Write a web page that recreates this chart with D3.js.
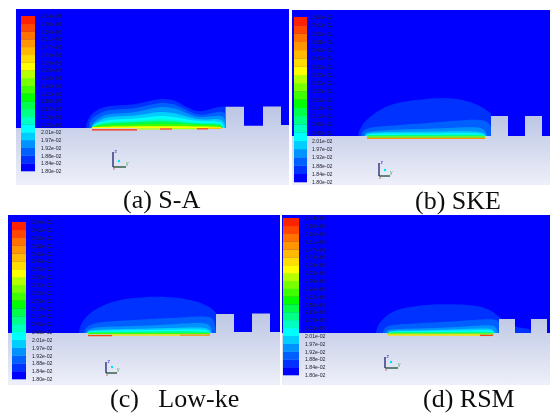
<!DOCTYPE html>
<html>
<head>
<meta charset="utf-8">
<title>Contours by turbulence model</title>
<script src="https://cdn.jsdelivr.net/npm/d3@7"></script>
<style>
  html, body { margin: 0; padding: 0; background: #fff; }
  svg { display: block; }
</style>
</head>
<body>
<script>
// legend values, all with the e-02 exponent
const legendValues = [1.80, 1.84, 1.88, 1.92, 1.97, 2.01, 2.05, 2.09, 2.13, 2.18, 2.22, 2.26, 2.30, 2.35, 2.39, 2.43, 2.47, 2.51, 2.56, 2.60, 2.64];
const colorStops = [1.80, 2.01, 2.18, 2.35, 2.64];
const colorNames = ['#0000ff', '#00ffff', '#00ff00', '#ffff00', '#ff0000'];

// contour profiles: [distance along wall, height above wall]
const saLevels = [1.84, 1.88, 1.92, 1.97, 2.01, 2.05, 2.13, 2.22, 2.35];
const saProfiles = [
  [[70,0],[71,6],[74,13],[84,20],[92,22],[104,23],[116,23],[129,26],[142,29],[151,29],[159,28],[172,20],[184,15],[196,20],[209,22],[209,21]],
  [[73,0],[74,8],[78,11],[84,15],[92,18],[104,19],[116,19],[129,22],[142,25],[151,25],[159,24],[172,17],[184,12],[196,15],[205,17],[209,15]],
  [[75,0],[76,5],[84,11],[92,14],[104,15],[116,15],[129,18],[142,21],[151,21],[159,20],[172,14],[184,10],[196,12],[207,13],[209,8]],
  [[76,0],[77,4],[84,8],[92,11],[104,12],[116,12],[129,14],[142,16],[151,16],[159,15],[172,11],[184,8],[196,9],[207,9],[209,3]],
  [[76,0],[77,3],[84,6],[92,8],[104,9],[116,9],[129,10.5],[142,12],[151,12],[159,11],[172,8.5],[184,6.5],[196,7],[207,6],[208,0]],
  [[76,0],[77,2],[84,4.5],[92,6],[104,7],[116,7],[129,8],[142,9],[159,8.5],[172,6],[184,5],[196,5.5],[206,4.5],[207,0]],
  [[76,0],[77,2],[84,3.5],[92,5],[116,5.5],[142,7],[159,6.5],[172,4.5],[196,4],[206,3],[206,0]],
  [[76,0],[77,1.5],[84,2.5],[116,3.5],[142,4.5],[159,4],[172,3.5],[196,3],[206,2],[206,0]],
  [[77,0],[78,1],[84,1.3],[142,2],[196,1.5],[205,1],[205,0]]
];
const skeLevels = [1.84, 1.88, 1.92, 1.97, 2.01, 2.09];
const skeProfiles = [
  [[66,0],[67,5],[70,11],[75,17],[91,29],[108,34],[125,36],[151,39],[175,36],[191,29],[199,22]],
  [[69,0],[70,5],[75,8],[91,10],[125,12],[158,15],[185,17],[196,15],[199,9]],
  [[72,0],[73,3],[75,4],[91,6],[125,7],[150,7.5],[185,9.5],[193,6.5],[195,0]],
  [[73,0],[74,2],[76,3],[91,4],[150,4.5],[185,5],[193,3],[194,0]],
  [[74,0],[75,1.5],[77,2],[91,2.5],[150,2.5],[185,3],[192,1.5],[193,0]],
  [[75,0],[76,1],[78,1],[150,1.2],[185,1.4],[192,0.6],[192,0]]
];
const lowkeLevels = [1.84, 1.88, 1.92, 1.97, 2.01, 2.09];
const lowkeProfiles = [
  [[71,0],[72,6],[75,13],[85,23],[102,31],[122,35],[149,37],[175,35],[195,30],[205,24],[208,20]],
  [[76,0],[77,4],[79,6],[85,10],[105,12],[145,14],[179,16],[202,17],[206,13],[208,2]],
  [[78,0],[79,3],[87,6],[105,6.5],[145,7.5],[190,10.5],[199,9.5],[203,6.5],[204,0]],
  [[79,0],[80,2],[87,3.5],[145,4.5],[190,6],[199,5],[202,3],[203,0]],
  [[79.5,0],[80,1.5],[87,2.3],[145,3],[190,3.7],[199,3],[202,0.8],[202,0]],
  [[80,0],[81,1],[87,1.2],[145,1.5],[199,1.8],[201,0.6],[201,0]]
];
const rsmLevels = [1.84, 1.88, 1.92, 1.97, 2.01, 2.09];
const rsmProfiles = [
  [[94,0],[95,5],[98,11],[108,21],[125,26],[151,29],[185,29],[208,25],[217,15],[233,6],[241,5],[249,4],[249.5,0]],
  [[101,0],[102,4],[106,8],[125,9],[168,11],[201,14],[215,14],[217,10]],
  [[104,0],[105,3],[111,4],[151,5],[185,6.5],[208,8.5],[214,6.5],[216,0]],
  [[106,0],[107,1.5],[112,2.5],[151,3],[185,4],[208,5],[212,3],[213,0]],
  [[106.5,0],[107,1],[113,1.7],[151,2],[185,2.5],[208,3],[211,1.5],[212,0]],
  [[107,0],[108,0.7],[113,0.9],[185,1],[208,1.5],[211,0.5],[211,0]]
];

// wall outline with the two blocks
const saWall = [[0,0],[209.5,0],[209.5,21.3],[228,21.3],[228,2.3],[247,2.3],[247,21.5],[265,21.5],[265,3],[273,3]];
const skeWall = [[0,0],[199,0],[199,20],[216,20],[216,0],[233,0],[233,20],[250,20],[250,0],[258,0]];
const lowkeWall = [[0,0],[208,0],[208,19],[226,19],[226,1],[244,1],[244,19.5],[262,19.5],[262,1],[272,1]];
const rsmWall = [[0,0],[217,0],[217,14],[233,14],[233,0],[249,0],[249,14],[265,14],[265,0],[268,0]];

// hot strip on the wall: [from, to, height, value]
const saStrip = [[76,205,0.4,2.35],[76,121,-1.8,2.60],[121,144,-1,2.30],[144,156,-1,2.56],[156,181,-0.6,2.30],[181,192,-0.8,2.56],[192,205,-0.3,2.43]];
const skeStrip = [[75,193,-1,2.22],[75,193,-2.4,2.47]];
const lowkeStrip = [[80,202,-0.6,2.22],[80,104,-2.6,2.56],[104,172,-2.2,2.39],[172,202,-2.2,2.47]];
const rsmStrip = [[105,212,-0.8,2.22],[105,198,-2,2.39],[198,211,-2.4,2.56]];

const captions = ['(a) S-A', '(b) SKE', '(c)   Low-ke', '(d) RSM'];

// sheet layout
const panels = [
  { left: 16, right: 289, top: 9, bottom: 185, wall: 128, barL: 21, barR: 35, barT: 16, barB: 171, labelX: 41, levels: saLevels, profiles: saProfiles, outline: saWall, strip: saStrip, triad: [113, 152, 167, 126], capX: 123, capY: 208, caption: captions[0] },
  { left: 292, right: 550, top: 10, bottom: 185, wall: 136, barL: 294, barR: 307, barT: 17, barB: 182, labelX: 312, levels: skeLevels, profiles: skeProfiles, outline: skeWall, strip: skeStrip, triad: [379, 163, 176, 390], capX: 415, capY: 209, caption: captions[1] },
  { left: 8, right: 280, top: 215, bottom: 385, wall: 333, barL: 12, barR: 26, barT: 222, barB: 379, labelX: 32, levels: lowkeLevels, profiles: lowkeProfiles, outline: lowkeWall, strip: lowkeStrip, triad: [106, 362, 373, 117], capX: 110, capY: 407, caption: captions[2] },
  { left: 282, right: 550, top: 215, bottom: 385, wall: 333, barL: 283, barR: 299, barT: 218, barB: 375, labelX: 305, levels: rsmLevels, profiles: rsmProfiles, outline: rsmWall, strip: rsmStrip, triad: [385, 357, 368, 398], capX: 423, capY: 407, caption: captions[3] }
];

const color = d3.scaleLinear().domain(colorStops).range(colorNames);

const svg = d3.select('body').append('svg').attr('width', 550).attr('height', 413);
const defs = svg.append('defs');
defs.append('filter').attr('id', 'soft').attr('x', '-2%').attr('y', '-2%').attr('width', '104%').attr('height', '104%')
  .append('feGaussianBlur').attr('stdDeviation', 0.7);
defs.append('filter').attr('id', 'softText')
  .append('feGaussianBlur').attr('stdDeviation', 0.3);

panels.forEach(function(p, i) {
  let x = d3.scaleLinear().domain([0, p.right - p.left]).range([p.left, p.right]);
  let y = d3.scaleLinear().domain([0, p.wall - p.top]).range([p.wall, p.top]);
  let g = svg.append('g').attr('filter', 'url(#soft)');

  // the blue far field
  g.append('rect').attr('x', p.left).attr('y', p.top)
    .attr('width', p.right - p.left).attr('height', p.wall - p.top + 4).attr('fill', color(legendValues[0]));

  // contour bands, coolest first
  let area = d3.area().x(function(d) { return x(d[0]); }).y0(y(0)).y1(function(d) { return y(d[1]); })
    .curve(d3.curveBasis);
  g.selectAll('.band').data(p.profiles).enter().append('path')
    .attr('class', 'band')
    .attr('d', area)
    .attr('fill', function(d, j) { return color(p.levels[j]); });

  // wall and blocks share one grey-blue fade
  let fadeId = 'fade' + i;
  let fade = defs.append('linearGradient').attr('id', fadeId).attr('gradientUnits', 'userSpaceOnUse')
    .attr('x1', 0).attr('x2', 0).attr('y1', y(20)).attr('y2', p.bottom);
  fade.append('stop').attr('offset', 0).attr('stop-color', '#bcc6e4');
  fade.append('stop').attr('offset', 1).attr('stop-color', '#eef0f9');
  let outline = [[0, -(p.bottom - p.wall)]].concat(p.outline, [[p.right - p.left, -(p.bottom - p.wall)]]);
  g.append('path')
    .attr('d', d3.line().x(function(d) { return x(d[0]); }).y(function(d) { return y(d[1]); })(outline) + 'Z')
    .attr('fill', 'url(#' + fadeId + ')');

  // hot strip
  g.selectAll('.strip').data(p.strip).enter().append('line')
    .attr('class', 'strip')
    .attr('x1', function(d) { return x(d[0]); })
    .attr('x2', function(d) { return x(d[1]); })
    .attr('y1', function(d) { return y(d[2]); })
    .attr('y2', function(d) { return y(d[2]); })
    .attr('stroke', function(d) { return color(d[3]); })
    .attr('stroke-width', 1.3);

  // colour bar
  let barY = d3.scaleLinear().domain([0, legendValues.length - 1]).range([p.barB, p.barT]);
  g.selectAll('.swatch').data(legendValues.slice(0, -1)).enter().append('rect')
    .attr('class', 'swatch')
    .attr('x', p.barL)
    .attr('width', p.barR - p.barL)
    .attr('y', function(d, j) { return barY(j + 1); })
    .attr('height', barY(0) - barY(1) + 0.3)
    .attr('fill', function(d) { return color(d); });

  let labelScale = d3.scalePoint().domain(legendValues).range([p.barB, p.barT]);
  let axis = d3.axisRight(labelScale).tickSize(0).tickPadding(0)
    .tickFormat(function(d) { return d.toFixed(2) + 'e-02'; });
  let axisG = g.append('g').attr('transform', 'translate(' + p.labelX + ',0)').call(axis);
  axisG.select('.domain').remove();
  axisG.selectAll('text').attr('font-family', 'Liberation Sans').attr('font-size', 5.2).attr('fill', '#222233');

  // coordinate triad
  let t = p.triad;
  let triad = g.append('g');
  triad.append('line').attr('x1', t[0]).attr('x2', t[0]).attr('y1', t[1]).attr('y2', t[2]).attr('stroke', '#101060').attr('stroke-width', 1.2);
  triad.append('line').attr('x1', t[0]).attr('x2', t[3]).attr('y1', t[2]).attr('y2', t[2]).attr('stroke', '#104020').attr('stroke-width', 1.2);
  triad.append('circle').attr('cx', t[0] + 6).attr('cy', t[2] - 6).attr('r', 1.2).attr('fill', '#00e0ff');
  triad.append('text').attr('x', t[0] + 1.5).attr('y', t[1] + 1).attr('font-size', 5).attr('font-family', 'Liberation Sans').attr('fill', '#3030d0').text('z');
  triad.append('text').attr('x', t[3]).attr('y', t[2] - 2).attr('font-size', 5).attr('font-family', 'Liberation Sans').attr('fill', '#30a040').text('y');
  triad.append('text').attr('x', t[0]).attr('y', t[2] + 3).attr('font-size', 4).attr('font-family', 'Liberation Sans').attr('fill', '#d04040').text('x');

  // caption
  svg.append('text')
    .attr('x', p.capX).attr('y', p.capY)
    .attr('font-family', 'Liberation Serif').attr('font-size', 26)
    .attr('fill', '#111').attr('filter', 'url(#softText)')
    .style('white-space', 'pre')
    .text(p.caption);
});
</script>
</body>
</html>
